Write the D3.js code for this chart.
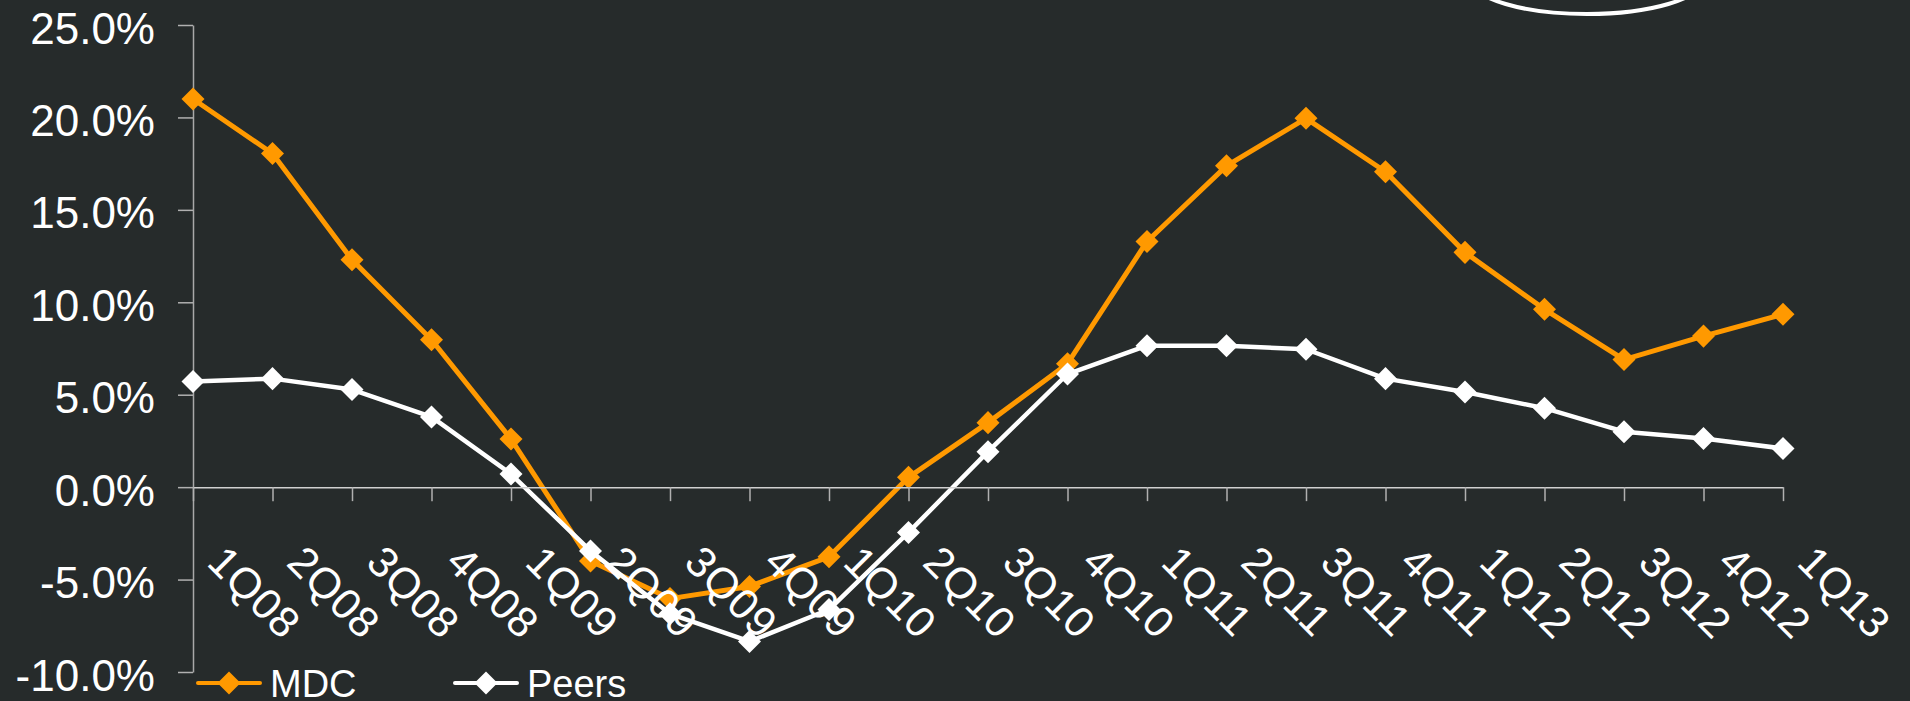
<!DOCTYPE html>
<html>
<head>
<meta charset="utf-8">
<script src="https://cdn.jsdelivr.net/npm/d3@7"></script>
<style>
  body { margin: 0; background: #262b2b; overflow: hidden; }
  svg { display: block; }
  text { font-family: "Liberation Sans", Arial, Helvetica, sans-serif; fill: #fff; }
</style>
</head>
<body>
<svg width="1910" height="701"></svg>
<script>
const width = 1910;
const height = 701;

// quarters on the x axis
const quarters = ["1Q08", "2Q08", "3Q08", "4Q08", "1Q09", "2Q09", "3Q09", "4Q09",
  "1Q10", "2Q10", "3Q10", "4Q10", "1Q11", "2Q11", "3Q11", "4Q11",
  "1Q12", "2Q12", "3Q12", "4Q12", "1Q13"];

// values in percent
const mdc = [21.0, 18.05, 12.3, 7.97, 2.6, -4.0, -6.03, -5.37, -3.77, 0.53, 3.49,
  6.68, 13.29, 17.38, 19.95, 17.06, 12.7, 9.62, 6.9, 8.17, 9.35];
const peers = [5.72, 5.87, 5.28, 3.8, 0.71, -3.45, -6.85, -8.35, -6.62, -2.45, 1.92,
  6.12, 7.65, 7.65, 7.46, 5.87, 5.15, 4.27, 3.0, 2.63, 2.09];

const yTicks = [-10, -5, 0, 5, 10, 15, 20, 25];

const series = [
  { name: "MDC", values: mdc, color: "#ff9900", width: 5 },
  { name: "Peers", values: peers, color: "#ffffff", width: 4.5 }
];

const svg = d3.select("svg");

const x = d3.scalePoint()
  .domain(quarters)
  .range([193, 1783]);

const y = d3.scaleLinear()
  .domain([-10, 25])
  .range([672, 25]);

// callout ellipse cut off at the top
svg.append("ellipse")
  .attr("cx", 1587)
  .attr("cy", -20)
  .attr("rx", 115)
  .attr("ry", 34)
  .attr("fill", "none")
  .attr("stroke", "#fff")
  .attr("stroke-width", 4);

// y axis
const yAxis = svg.append("g")
  .attr("transform", "translate(193,0)")
  .call(d3.axisLeft(y)
    .tickValues(yTicks)
    .tickSize(15)
    .tickSizeOuter(0)
    .tickPadding(23)
    .tickFormat(d => d.toFixed(1) + "%"));

yAxis.select(".domain").attr("stroke", "#a8a8a8").attr("stroke-width", 1.5);
yAxis.selectAll(".tick line").attr("stroke", "#b0b0b0").attr("stroke-width", 1.5);
yAxis.selectAll(".tick text")
  .attr("dy", 18)
  .attr("fill", "#fff")
  .style("font-size", "44px")
  .style("font-family", "'Liberation Sans', Arial, sans-serif");

// x axis at zero
const xAxis = svg.append("g")
  .attr("transform", `translate(0,${y(0)})`)
  .call(d3.axisBottom(x).tickSize(14).tickSizeOuter(0));

xAxis.select(".domain").attr("stroke", "#d0d0d0").attr("stroke-width", 1.5);
xAxis.selectAll(".tick line").attr("stroke", "#b0b0b0").attr("stroke-width", 1.5);

// lines + markers
const line = d3.line()
  .x((d, i) => x(quarters[i]))
  .y(d => y(d));

const marker = d3.symbol().type(d3.symbolSquare).size(265);

series.forEach(s => {
  svg.append("path")
    .datum(s.values)
    .attr("d", line)
    .attr("fill", "none")
    .attr("stroke", s.color)
    .attr("stroke-width", s.width)
    .attr("stroke-linejoin", "round");

  svg.selectAll(null)
    .data(s.values)
    .enter().append("path")
    .attr("d", marker)
    .attr("fill", s.color)
    .attr("transform", (d, i) => `translate(${x(quarters[i])},${y(d)}) rotate(45)`);
});

// rotated quarter labels, on top of the lines
xAxis.raise();
xAxis.selectAll(".tick text")
  .attr("x", 0)
  .attr("y", 0)
  .attr("dy", 0)
  .attr("transform", "translate(12,77) rotate(45)")
  .attr("fill", "#fff")
  .style("text-anchor", "start")
  .style("font-size", "43px")
  .style("letter-spacing", "1px")
  .style("font-family", "'Liberation Sans', Arial, sans-serif");

// legend
const legendX = [198, 455];
const legend = svg.selectAll(".legend")
  .data(series)
  .enter().append("g")
  .attr("class", "legend")
  .attr("transform", (d, i) => `translate(${legendX[i]},683)`);

legend.append("line")
  .attr("x1", 0)
  .attr("x2", 62)
  .attr("stroke", d => d.color)
  .attr("stroke-width", 4)
  .attr("stroke-linecap", "round");

legend.append("path")
  .attr("d", marker)
  .attr("fill", d => d.color)
  .attr("transform", "translate(31,0) rotate(45)");

legend.append("text")
  .attr("x", 72)
  .attr("y", 14)
  .style("font-size", "38px")
  .text(d => d.name);
</script>
</body>
</html>
